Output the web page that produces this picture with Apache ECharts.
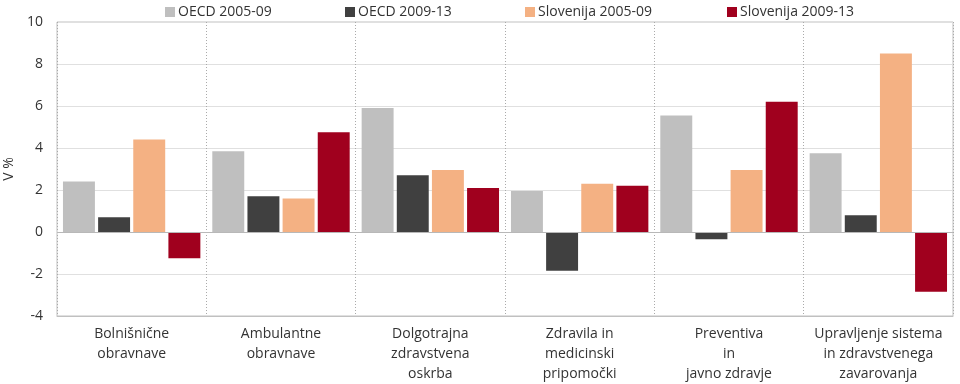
<!DOCTYPE html>
<html><head><meta charset="utf-8">
<script src="https://cdn.jsdelivr.net/npm/echarts@6/dist/echarts.min.js"></script>
<style>html,body{margin:0;padding:0;background:#fff}#c{width:960px;height:384px}</style>
</head><body><div id="c"></div>
<script>
const categories = ["Bolnišnične\nobravnave","Ambulantne\nobravnave","Dolgotrajna\nzdravstvena\noskrba","Zdravila in\nmedicinski\npripomočki","Preventiva\nin\njavno zdravje","Upravljenje sistema\nin zdravstvenega\nzavarovanja"];
const seriesNames = ["OECD 2005-09","OECD 2009-13","Slovenija 2005-09","Slovenija 2009-13"];
const oecd0509 = [2.4, 3.85, 5.9, 1.95, 5.55, 3.75];
const oecd0913 = [0.7, 1.7, 2.7, -1.85, -0.35, 0.8];
const slo0509 = [4.4, 1.6, 2.95, 2.3, 2.95, 8.5];
const slo0913 = [-1.25, 4.75, 2.1, 2.2, 6.2, -2.85];
const yTicks = [-4, -2, 0, 2, 4, 6, 8, 10];
const colors = ["#bfbfbf","#404040","#f4b183","#a0001e"];
const font = "Open Sans";
const values = [oecd0509, oecd0913, slo0509, slo0913];
const legendLeft = [165, 345, 525, 727];
const chart = echarts.init(document.getElementById('c'));
chart.setOption({
  animation:false,
  textStyle:{fontFamily:font},
  legend: seriesNames.map((n,i)=>({top:5,left:legendLeft[i],padding:0,itemWidth:10,itemHeight:10,icon:'rect',
    textStyle:{fontSize:14,color:'#333',fontFamily:font,padding:[0,0,0,-2]},data:[n]})),
  grid:{left:57,right:7,top:22,bottom:68,show:true,borderColor:'#c0c0c0',borderWidth:1,outerBoundsMode:'none',containLabel:false},
  xAxis:{type:'category',data:categories,
    axisLine:{onZero:false,lineStyle:{color:'#c0c0c0'}},axisTick:{show:false},
    axisLabel:{fontSize:14,color:'#333',lineHeight:20,margin:8,interval:0},
    splitLine:{show:true,interval:0,lineStyle:{color:'#aaa',type:[1,2]}}},
  yAxis:{type:'value',min:yTicks[0],max:yTicks[yTicks.length-1],interval:2,
    name:'V %',nameLocation:'middle',nameGap:38,nameTextStyle:{fontSize:14,color:'#333'},
    axisLine:{show:false},axisTick:{show:false},
    axisLabel:{fontSize:14,color:'#333',margin:14},
    splitLine:{lineStyle:{color:'#e0e0e0'}}},
  series: values.map((v,i)=>({
    name:seriesNames[i],type:'bar',data:v,barGap:'10%',barCategoryGap:'8%',
    itemStyle:{color:colors[i]},
    markLine: i===0 ? {silent:true,symbol:'none',label:{show:false},
      lineStyle:{color:'#b8b8b8',type:'solid',width:1},data:[{yAxis:0}]} : undefined
  }))
});
</script></body></html>
